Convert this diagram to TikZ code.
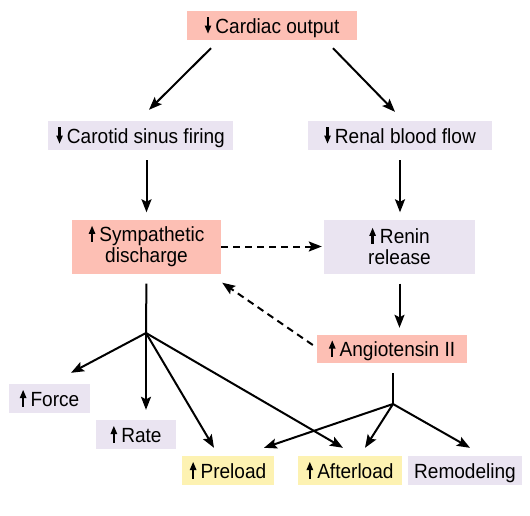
\documentclass[tikz,border=0pt]{standalone}
\usepackage{fontspec}
\setmainfont{Liberation Sans}[FakeStretch=0.93]
\usetikzlibrary{arrows.meta,calc}
\definecolor{pinkbox}{HTML}{FDBFB4}
\definecolor{lavbox}{HTML}{EAE4F1}
\definecolor{yelbox}{HTML}{FDF2B2}
\newcommand\myup{\tikz[x=1pt,y=1pt,baseline=0pt]{\fill (-1.1,-0.5) rectangle (1.1,9); \fill (-3.4,8) -- (3.4,8) -- (0,16) -- cycle;}\hspace{4pt}}
\newcommand\mydown{\tikz[x=1pt,y=1pt,baseline=0pt]{\fill (-1.1,6.5) rectangle (1.1,16); \fill (-3.4,7.5) -- (3.4,7.5) -- (0,-0.5) -- cycle;}\hspace{4pt}}
\begin{document}
\begin{tikzpicture}[x=1pt,y=-1pt,
  box/.style={inner sep=0pt, align=center, text height=15pt, text depth=0pt, font=\fontsize{20.5}{20}\selectfont},
  box2/.style={inner sep=0pt, align=center, font=\fontsize{20.5}{21}\selectfont},
  pinkb/.style={box, fill=pinkbox},
  lavb/.style={box, fill=lavbox},
  yelb/.style={box, fill=yelbox},
  conn/.style={line width=2pt, -{Stealth[length=13pt,width=10pt,inset=2.5pt]}},
  dconn/.style={conn, dash pattern=on 7pt off 5pt}]
\useasboundingbox (0,0) rectangle (530,515);
\fill[white] (0,0) rectangle (530,515);

\node[pinkb, minimum width=170pt, minimum height=29pt] (co) at (272,25.5) {\mydown Cardiac output};
\node[lavb, minimum width=185pt, minimum height=29pt] (cs) at (140.5,135.5) {\mydown Carotid sinus firing};
\node[lavb, minimum width=184pt, minimum height=29pt] (rb) at (400,135.5) {\mydown Renal blood flow};
\node[box2, fill=pinkbox, minimum width=149pt, minimum height=54pt] (sd) at (146.5,246.5) {\myup Sympathetic\\discharge};
\node[box2, fill=lavbox, minimum width=151pt, minimum height=54pt] (rr) at (399.5,246.5) {\myup Renin\\release};
\node[pinkb, minimum width=150pt, minimum height=28pt] (at) at (392,349) {\myup Angiotensin II};
\node[lavb, minimum width=81pt, minimum height=29pt] (fo) at (49.5,398.5) {\myup Force};
\node[lavb, minimum width=80pt, minimum height=29pt] (ra) at (136,434.5) {\myup Rate};
\node[yelb, minimum width=92pt, minimum height=29pt] (pl) at (228,470.5) {\myup Preload};
\node[yelb, minimum width=104pt, minimum height=29pt] (al) at (350,470.5) {\myup Afterload};
\node[lavb, minimum width=114pt, minimum height=29pt] (rm) at (465,470.5) {Remodeling};

\coordinate (j1) at (146,333);
\coordinate (j2) at (393,404);

\draw[conn] ([shift={(-61,8)}]co.south) -- ([shift={(8.5,-11)}]cs.north);
\draw[conn] ([shift={(61,8)}]co.south) -- ([shift={(-5,-9)}]rb.north);
\draw[conn, shorten <=10pt, shorten >=7pt] (cs.south -| sd.north) -- (sd.north);
\draw[conn, shorten <=10pt, shorten >=7pt] (rb.south) -- (rb.south |- rr.north);
\draw[dconn, shorten >=2pt] (sd.east) -- (sd.east -| rr.west);
\draw[conn, shorten <=10pt, shorten >=7pt] (rr.south) -- (rr.south |- at.north);
\draw[dconn] ([shift={(-4,-4)}]at.west) -- ([shift={(1,9)}]sd.south east);

\draw[line width=2pt, shorten <=10pt] (sd.south) -- (j1);
\draw[conn] (j1) -- ([shift={(21.5,-11)}]fo.north);
\draw[conn, shorten >=10pt] (j1) -- (j1 |- ra.north);
\draw[conn] (j1) -- ([shift={(-14,-8)}]pl.north);
\draw[conn] (j1) -- ([shift={(-7,-8)}]al.north);

\draw[line width=2pt, shorten <=10pt] (at.south -| j2) -- (j2);
\draw[conn] (j2) -- ([shift={(36,-8)}]pl.north);
\draw[conn] (j2) -- ([shift={(15,-8)}]al.north);
\draw[conn] (j2) -- ([shift={(5,-8)}]rm.north);
\end{tikzpicture}
\end{document}
